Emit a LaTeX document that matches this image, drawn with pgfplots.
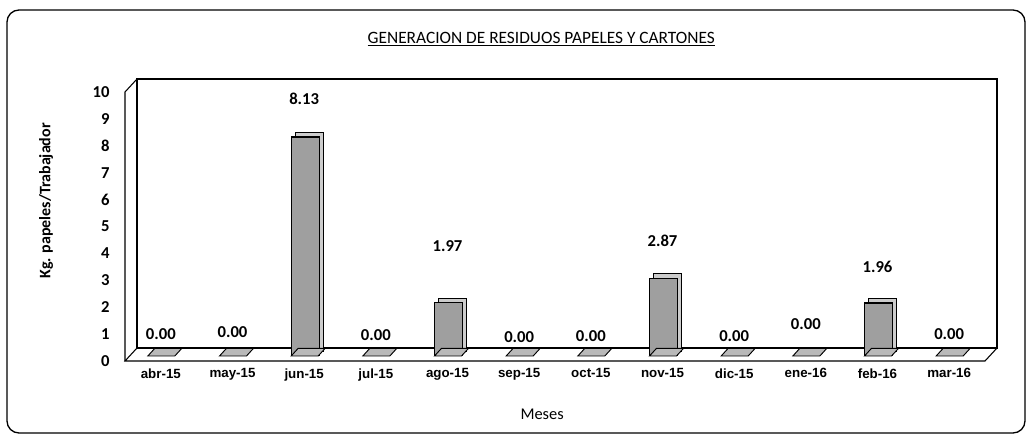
\documentclass[border=0pt]{standalone}
\usepackage{pgfplots}
\pgfplotsset{compat=1.18}
\usepackage{pgfplotstable}
\usepackage{fontspec}
\setmainfont{Carlito}
\newfontfamily\arialb{Liberation Sans}
\pgfplotstableread{
x y off
0 0.00 16.5
1 0.00 18
2 8.13 28.5
3 0.00 15.75
4 1.97 42.75
5 0.00 14.25
6 0.00 15
7 2.87 28.5
8 0.00 15
9 0.00 24
10 1.96 27
11 0.00 16.5
}\datatable
\pgfdeclareplotmark{floorrhomb}{%
  \filldraw[fill=gray!55, draw=black, line width=0.7pt] (-9.75pt,3.75pt) -- (10.5pt,3.75pt) -- (15.75pt,9.5pt) -- (-4.5pt,9.5pt) -- cycle;}
\begin{document}
\begin{tikzpicture}
\path[use as bounding box] (0,0) rectangle (771.75pt,329.25pt);
\draw[line width=1pt, rounded corners=9pt] (5.25pt,4.5pt) rectangle (768.75pt,321.75pt);
\begin{axis}[
  at={(93.75pt,58.5pt)}, anchor=south west,
  scale only axis, width=645pt, height=201.75pt,
  xmin=-0.5, xmax=11.5, ymin=0, ymax=10,
  axis line style={draw=none},
  major tick length=0pt,
  xtick={0,...,11},
  xticklabels={abr-15,may-15,jun-15,jul-15,ago-15,sep-15,oct-15,nov-15,dic-15,ene-16,feb-16,mar-16},
  xticklabel style={font=\fontsize{10}{12}\selectfont\arialb\bfseries, yshift=-2pt},
  ytick={0,...,10},
  yticklabel style={font=\fontsize{12.5}{14}\selectfont\bfseries, xshift=-8pt},
  /pgf/number format/assume math mode=true,
  clip=false,
]
% 3D frame
\draw[black, line width=0.8pt] ([shift={(9pt,9.75pt)}]rel axis cs:0,0) rectangle ([shift={(9pt,9.75pt)}]rel axis cs:1,1);
\draw[black, line width=0.8pt] (rel axis cs:0,0) -- (rel axis cs:0,1) -- ([shift={(9pt,9.75pt)}]rel axis cs:0,1);
\draw[black, line width=0.8pt] ([shift={(9pt,9.75pt)}]rel axis cs:0,0) -- (rel axis cs:0,0) -- (rel axis cs:1,0) -- ([shift={(9pt,9.75pt)}]rel axis cs:1,0);
% floor footprint of every bar
\addplot[only marks, mark=floorrhomb, forget plot] table[x=x, y expr=0]{\datatable};
% bars: depth copy
\addplot[ybar, bar shift=0pt, bar width=21pt, fill=gray!40, draw=black, line width=0.6pt, xshift=4pt, yshift=7.5pt, forget plot]
  table[x=x, y expr={\thisrow{y}==0 ? nan : \thisrow{y}}]{\datatable};
\addplot[ybar, bar shift=0pt, bar width=21pt, fill=gray!75, draw=black, line width=0.9pt, xshift=1pt, yshift=4pt, forget plot]
  table[x=x, y expr={\thisrow{y}==0 ? nan : \thisrow{y}}]{\datatable};
% value labels
\addplot[only marks, mark=none, forget plot,
  point meta=explicit,
  visualization depends on={\thisrow{off} \as \off},
  nodes near coords,
  nodes near coords style={anchor=center, yshift=\off pt + 4pt, font=\fontsize{12.5}{14}\selectfont\bfseries,
     /pgf/number format/.cd, fixed, fixed zerofill, precision=2, assume math mode=true},
]
  table[x=x, y=y, meta=y]{\datatable};
\node[font=\fontsize{13}{15}\selectfont] at (rel axis cs:0.484,1.197) {\underline{GENERACION DE RESIDUOS PAPELES Y CARTONES}};
\node[font=\fontsize{12.3}{14}\selectfont] at (rel axis cs:0.485,-0.197) {Meses};
\node[font=\fontsize{12}{14}\selectfont\bfseries, rotate=90] at ([xshift=-59.25pt]rel axis cs:0,0.595) {Kg. papeles/Trabajador};
\end{axis}
\end{tikzpicture}
\end{document}
